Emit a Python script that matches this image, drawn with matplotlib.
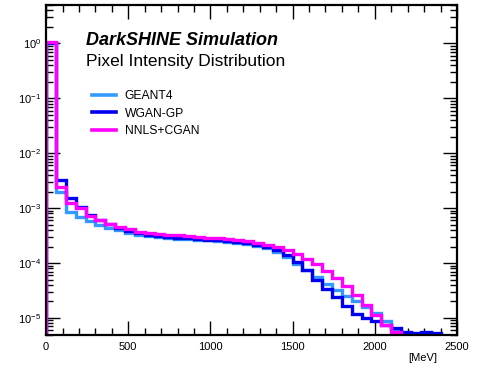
import numpy as np
import matplotlib
matplotlib.use("Agg")
import matplotlib.pyplot as plt
from matplotlib.lines import Line2D
from matplotlib.ticker import LogLocator, MultipleLocator, NullFormatter

plt.rcParams["font.family"] = ["Liberation Sans", "DejaVu Sans"]
plt.rcParams["mathtext.default"] = "regular"

# Pixel energy binning: 40 bins of 60 MeV
bin_edges = np.linspace(0, 2400, 41)

geant4 = [1.0, 2.0e-3, 8.5e-4, 7.0e-4, 5.9e-4, 5.0e-4, 4.4e-4, 4.0e-4, 3.6e-4, 3.3e-4,
          3.12e-4, 2.98e-4, 2.88e-4, 2.8e-4, 2.72e-4, 2.65e-4, 2.58e-4, 2.51e-4, 2.43e-4, 2.34e-4,
          2.22e-4, 2.08e-4, 1.9e-4, 1.6e-4, 1.3e-4, 9.8e-5, 7.4e-5, 5.5e-5, 4.1e-5, 3.3e-5,
          2.5e-5, 2.0e-5, 1.6e-5, 1.23e-5, 8.7e-6, 6.2e-6, 0, 0, 0, 0]

wgan_gp = [1.0, 3.2e-3, 1.5e-3, 1.05e-3, 7.6e-4, 6.1e-4, 5.2e-4, 4.4e-4, 3.8e-4, 3.5e-4,
           3.3e-4, 3.15e-4, 3.02e-4, 2.92e-4, 2.83e-4, 2.75e-4, 2.67e-4, 2.59e-4, 2.5e-4, 2.4e-4,
           2.28e-4, 2.14e-4, 1.97e-4, 1.7e-4, 1.38e-4, 1.05e-4, 7.6e-5, 5.0e-5, 3.4e-5, 2.4e-5,
           1.65e-5, 1.2e-5, 1.0e-5, 8.7e-6, 7.6e-6, 6.6e-6, 5.6e-6, 5.3e-6, 5.5e-6, 5.4e-6]

nnls_cgan = [1.05, 2.4e-3, 1.25e-3, 1.0e-3, 7.3e-4, 6.0e-4, 5.2e-4, 4.6e-4, 4.1e-4, 3.75e-4,
             3.55e-4, 3.4e-4, 3.28e-4, 3.18e-4, 3.09e-4, 3.0e-4, 2.91e-4, 2.82e-4, 2.72e-4, 2.6e-4,
             2.47e-4, 2.32e-4, 2.15e-4, 1.95e-4, 1.72e-4, 1.45e-4, 1.2e-4, 9.5e-5, 7.2e-5, 5.3e-5,
             3.8e-5, 2.6e-5, 1.75e-5, 1.15e-5, 7.5e-6, 5.5e-6, 0, 0, 0, 0]

labels = ["GEANT4", "WGAN-GP", "NNLS+CGAN"]
colors = ["#3399ff", "#0000ee", "#ff00ff"]
series = [geant4, wgan_gp, nnls_cgan]

fig = plt.figure(figsize=(4.8, 3.72), dpi=100)
ax = fig.add_axes([0.096, 0.0995, 0.856, 0.887])

centers = 0.5 * (bin_edges[:-1] + bin_edges[1:])
for vals, col in zip(series, colors):
    ax.hist(centers, bins=bin_edges, weights=vals, histtype="step",
            color=col, lw=2.4)

ax.set_yscale("log")
ax.set_xlim(0, 2500)
ax.set_ylim(4.9e-6, 5.0)

ax.xaxis.set_major_locator(MultipleLocator(500))
ax.xaxis.set_minor_locator(MultipleLocator(100))
ax.yaxis.set_major_locator(LogLocator(base=10, numticks=20))
ax.yaxis.set_minor_locator(LogLocator(base=10, subs=np.arange(2, 10), numticks=20))
ax.yaxis.set_minor_formatter(NullFormatter())

ax.tick_params(which="both", direction="in", top=True, right=True, labelsize=8, width=1)
ax.tick_params(which="major", length=10)
ax.tick_params(which="minor", length=5)
ax.tick_params(axis="x", pad=5)
for s in ax.spines.values():
    s.set_linewidth(1.6)

fig.text(0.88, 0.03, "[MeV]", fontsize=8, ha="center")

ax.text(0.098, 0.88, "DarkSHINE Simulation", transform=ax.transAxes,
        fontsize=13, fontweight="bold", fontstyle="italic")
ax.text(0.098, 0.815, "Pixel Intensity Distribution", transform=ax.transAxes,
        fontsize=12.5)

handles = [Line2D([], [], color=c, lw=2.6) for c in colors]
leg = ax.legend(handles, labels, loc="upper left", bbox_to_anchor=(0.085, 0.775),
                frameon=False, fontsize=8.7, handlelength=2.0, handletextpad=0.7,
                labelspacing=0.45)

fig.savefig("out.png", dpi=100)
